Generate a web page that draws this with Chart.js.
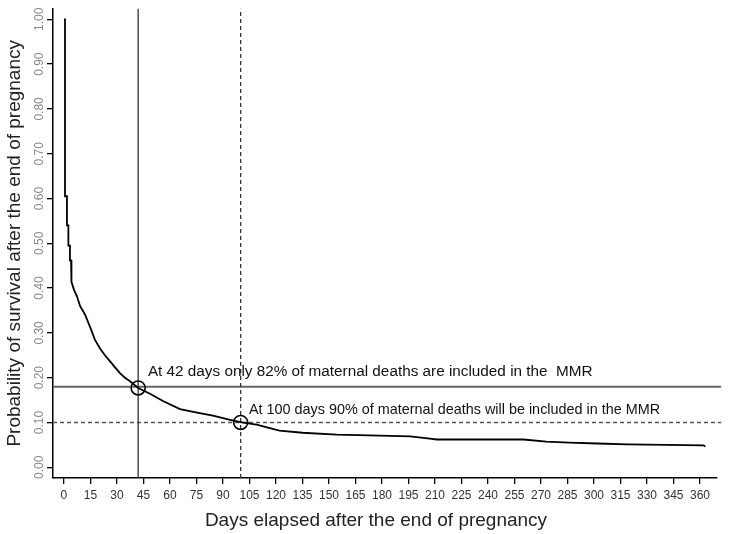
<!DOCTYPE html>
<html>
<head>
<meta charset="utf-8">
<script src="https://cdn.jsdelivr.net/npm/chart.js@4"></script>
<style>
  html, body { margin: 0; padding: 0; background: #fff; }
  #wrap { width: 733px; height: 534px; }
</style>
</head>
<body>
<div id="wrap"><canvas id="survChart"></canvas></div>
<script>
// Kaplan-Meier style survival curve
const days = [0, 0.6, 0.6, 1.7, 1.7, 2.5, 2.5, 3.4, 3.4, 4.0, 4.0, 4.5, 5.7, 7.4, 9.1, 11.9, 14.7, 17.5, 20.4, 23.2, 26, 28.9, 31.7, 34.5, 37.4, 42, 48.7, 56, 65.7, 75.3, 84.3, 94, 100.7, 109, 122, 135, 154.5, 173, 196, 207, 211, 241, 260, 273, 286, 302, 319, 362, 363];
const survival = [1.0, 1.0, 0.605, 0.605, 0.54, 0.54, 0.495, 0.495, 0.462, 0.462, 0.435, 0.414, 0.396, 0.381, 0.36, 0.341, 0.314, 0.285, 0.265, 0.25, 0.237, 0.223, 0.21, 0.20, 0.192, 0.177, 0.164, 0.148, 0.13, 0.122, 0.115, 0.106, 0.10, 0.095, 0.082, 0.077, 0.073, 0.071, 0.069, 0.064, 0.062, 0.062, 0.062, 0.057, 0.055, 0.053, 0.051, 0.049, 0.046];

const markerDays = [42, 100];
const markerSurvival = [0.177, 0.10];

const refDay42 = 42, refSurv42 = 0.18;
const refDay100 = 100, refSurv100 = 0.10;

const xTicks = [0, 15, 30, 45, 60, 75, 90, 105, 120, 135, 150, 165, 180, 195, 210, 225, 240, 255, 270, 285, 300, 315, 330, 345, 360];
const yTicks = [0, 0.1, 0.2, 0.3, 0.4, 0.5, 0.6, 0.7, 0.8, 0.9, 1.0];

const noteTexts = ['At 42 days only 82% of maternal deaths are included in the  MMR', 'At 100 days 90% of maternal deaths will be included in the MMR'];
const noteDays = [47.5, 104.7];
const noteSurv = [0.204, 0.119];

const xTitle = 'Days elapsed after the end of pregnancy';

const X_MIN = -6.2, X_MAX = 369.6, Y_MIN = -0.024, Y_MAX = 1.024, X_EDGE = 372;
const FONT = '"Liberation Sans", Arial, sans-serif';

const notesPlugin = {
    id: 'notes',
    afterDatasetsDraw(chart) {
        const ctx = chart.ctx, xs = chart.scales.x, ys = chart.scales.y;
        const sizes = [15.3, 14.4];
        ctx.save();
        ctx.fillStyle = '#111';
        ctx.textBaseline = 'alphabetic';
        noteTexts.forEach((t, i) => {
            ctx.font = sizes[i] + 'px ' + FONT;
            ctx.fillText(t, xs.getPixelForValue(noteDays[i]), ys.getPixelForValue(noteSurv[i]));
        });
        // x axis title, centred a little left of the plot centre as in R
        ctx.font = '19px ' + FONT;
        ctx.fillStyle = '#222';
        ctx.textAlign = 'center';
        ctx.textBaseline = 'middle';
        ctx.fillText(xTitle, (chart.chartArea.left + chart.chartArea.right) / 2 - 9, 521);
        ctx.restore();
    }
};

const ctx = document.getElementById('survChart').getContext('2d');
new Chart(ctx, {
    type: 'line',
    data: {
        datasets: [
            { data: days.map((d, i) => ({ x: d, y: survival[i] })), borderColor: '#000', borderWidth: 1.8, pointRadius: 0, tension: 0, order: 1 },
            { data: [{ x: refDay42, y: Y_MIN }, { x: refDay42, y: Y_MAX }], borderColor: '#333', borderWidth: 1.3, pointRadius: 0, order: 3 },
            { data: [{ x: refDay100, y: Y_MIN }, { x: refDay100, y: Y_MAX }], borderColor: '#333', borderWidth: 1.3, borderDash: [4, 3], pointRadius: 0, order: 3 },
            { data: [{ x: X_MIN, y: refSurv42 }, { x: X_EDGE, y: refSurv42 }], borderColor: '#666', borderWidth: 2, pointRadius: 0, clip: false, order: 3 },
            { data: [{ x: X_MIN, y: refSurv100 }, { x: X_EDGE, y: refSurv100 }], borderColor: '#555', borderWidth: 1.5, borderDash: [4, 3], pointRadius: 0, clip: false, order: 3 },
            { type: 'scatter', data: markerDays.map((d, i) => ({ x: d, y: markerSurvival[i] })), pointRadius: 7, pointBorderColor: '#000', pointBackgroundColor: 'rgba(0,0,0,0)', pointBorderWidth: 1.6, order: 0 }
        ]
    },
    options: {
        responsive: true,
        maintainAspectRatio: false,
        animation: false,
        events: [],
        layout: { padding: { top: 4, right: 16, left: 0, bottom: 0 } },
        plugins: { legend: { display: false }, tooltip: { enabled: false } },
        scales: {
            x: {
                type: 'linear', min: X_MIN, max: X_MAX,
                afterBuildTicks: s => { s.ticks = xTicks.map(v => ({ value: v })); },
                afterFit: s => { s.height = 56; },
                grid: { drawOnChartArea: false, drawTicks: true, tickLength: 6, color: '#000', lineWidth: 1.3 },
                border: { display: true, color: '#000', width: 1.5 },
                ticks: { maxRotation: 0, minRotation: 0, padding: 4, color: '#333', font: { family: FONT, size: 12 } },
                title: { display: false }
            },
            y: {
                type: 'linear', min: Y_MIN, max: Y_MAX,
                afterBuildTicks: s => { s.ticks = yTicks.map(v => ({ value: v })); },
                afterFit: s => { s.width = 53; },
                grid: { drawOnChartArea: false, drawTicks: true, tickLength: 6, color: '#000', lineWidth: 1.3 },
                border: { display: true, color: '#000', width: 1.5 },
                ticks: { minRotation: 90, maxRotation: 90, crossAlign: 'center', padding: -4, color: '#888', font: { family: FONT, size: 12 }, callback: v => v.toFixed(2) },
                title: { display: true, text: 'Probability of survival after the end of pregnancy', color: '#222', font: { family: FONT, size: 19 }, padding: { top: 3, bottom: 0 } }
            }
        }
    },
    plugins: [notesPlugin]
});
</script>
</body>
</html>
